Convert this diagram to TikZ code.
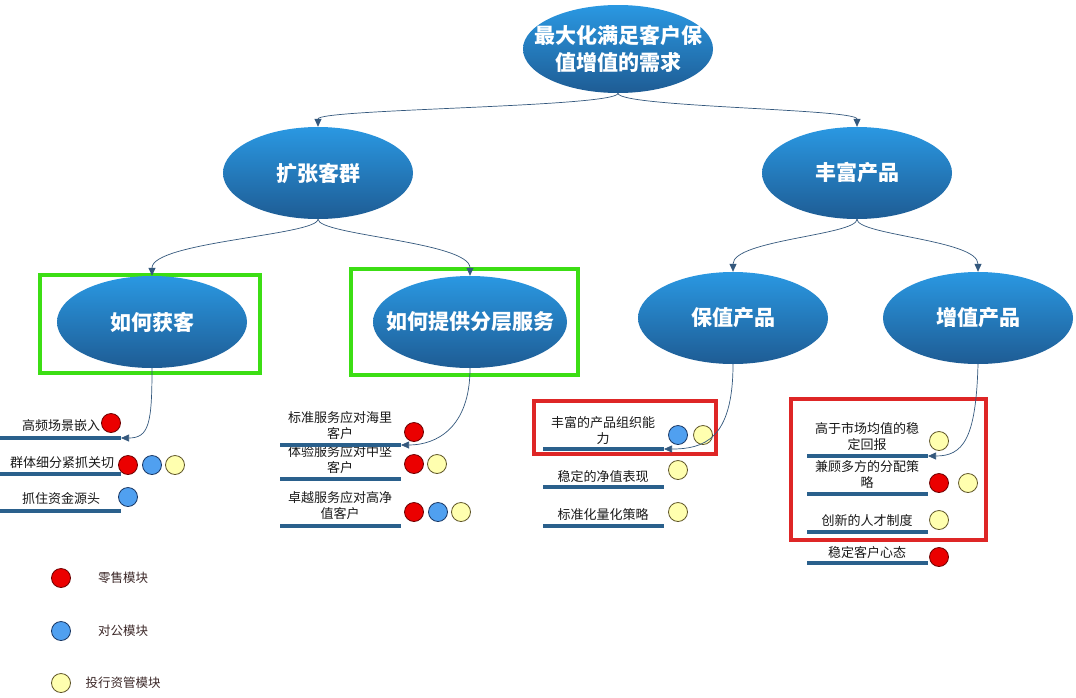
\documentclass[tikz,border=0pt]{standalone}
\usepackage{fontspec}
\newfontfamily\cjk{Noto Sans CJK SC}
\usetikzlibrary{shapes.geometric,arrows.meta}
\definecolor{elltop}{RGB}{42,152,226}
\definecolor{ellbot}{RGB}{30,92,148}
\definecolor{connc}{RGB}{52,88,125}
\definecolor{ulc}{RGB}{42,96,140}
\definecolor{itemc}{RGB}{25,25,25}
\definecolor{legc}{RGB}{60,40,40}
\definecolor{dotred}{RGB}{235,0,0}
\definecolor{dotredb}{RGB}{110,0,0}
\definecolor{dotblue}{RGB}{80,160,240}
\definecolor{dotblueb}{RGB}{25,55,100}
\definecolor{dotyel}{RGB}{255,255,175}
\definecolor{dotyelb}{RGB}{95,85,40}
\definecolor{gboxc}{RGB}{60,222,20}
\definecolor{rboxc}{RGB}{222,38,38}
\tikzset{
  bigell/.style={ellipse, minimum width=190pt, minimum height=92pt, inner sep=0pt,
    top color=elltop, bottom color=ellbot, draw=none, text=white,
    font=\cjk\bfseries\fontsize{21}{27}\selectfont, align=center},
  wideell/.style={bigell, inner xsep=-18pt},
  conn/.style={draw=connc, line width=0.7pt, -{Triangle[length=8pt,width=7pt]}},
  item/.style={font=\cjk\fontsize{13}{15.5}\selectfont, text=itemc, align=center, inner sep=0pt},
  leg/.style={font=\cjk\fontsize{12.5}{14}\selectfont, text=legc, inner sep=0pt},
  uline/.style={draw=ulc, line width=3.5pt},
  dot/.style={circle, minimum size=19pt, inner sep=0pt, line width=0.8pt},
  rdot/.style={dot, fill=dotred, draw=dotredb},
  bdot/.style={dot, fill=dotblue, draw=dotblueb},
  ydot/.style={dot, fill=dotyel, draw=dotyelb},
  gbox/.style={draw=gboxc, line width=4pt, inner sep=0pt},
  rbox/.style={draw=rboxc, line width=4pt, inner sep=0pt},
}
\begin{document}
\begin{tikzpicture}[x=1pt,y=-1pt]
\useasboundingbox[fill=white] (0,0) rectangle (1076,697);

% boxes
\node[gbox, minimum width=220pt, minimum height=98pt] (g1) at (150,324) {};
\node[gbox, minimum width=227pt, minimum height=106pt] (g2) at (464.5,322) {};
\node[rbox, minimum width=182pt, minimum height=53pt] (r1) at (625,427.5) {};
\node[rbox, minimum width=195pt, minimum height=141pt] (r2) at (888.5,469.5) {};

% ellipses
\node[wideell, minimum height=88pt] (top) at (618,49) {最大化满足客户保\\值增值的需求};
\node[bigell] (kz) at (318,173) {扩张客群};
\node[bigell] (ff) at (857,173) {丰富产品};
\node[bigell] (hk) at (152,322) {如何获客};
\node[wideell, minimum width=194pt] (fc) at (470,322) {如何提供分层服务};
\node[bigell] (bz) at (733,318) {保值产品};
\node[bigell] (zz) at (978,318) {增值产品};

% connectors between ellipses
\draw[conn] (top.south) .. controls +(0,14) and +(0,-18) .. (kz.north);
\draw[conn] (top.south) .. controls +(0,14) and +(0,-18) .. (ff.north);
\draw[conn] (kz.south) .. controls +(0,16) and +(0,-34) .. (hk.north);
\draw[conn] (kz.south) .. controls +(0,16) and +(0,-34) .. (fc.north);
\draw[conn] (ff.south) .. controls +(0,16) and +(0,-32) .. (bz.north);
\draw[conn] (ff.south) .. controls +(0,16) and +(0,-32) .. (zz.north);

% column A
\node[item] (a1) at (61,426) {高频场景嵌入};
\node[item] (a2) at (62,463) {群体细分紧抓关切};
\node[item] (a3) at (61,499) {抓住资金源头};
\coordinate (a1s) at (0,438); \coordinate (a1e) at (121,438);
\coordinate (a2s) at (0,474); \coordinate (a2e) at (121,474);
\coordinate (a3s) at (0,511); \coordinate (a3e) at (121,511);
\draw[uline] (a1s) -- (a1e);
\draw[uline] (a2s) -- (a2e);
\draw[uline] (a3s) -- (a3e);
\node[rdot] (a1r) at (111,423) {};
\node[rdot] (a2r) at (128,465) {};
\node[bdot] (a2b) at (152,465) {};
\node[ydot] (a2y) at (175,465) {};
\node[bdot] (a3b) at (128,497) {};
\draw[conn] (hk.south) .. controls +(0,55) and +(28,0) .. (a1e);

% column B
\node[item] (b1) at (340,425.5) {标准服务应对海里\\客户};
\node[item] (b2) at (340,459.5) {体验服务应对中坚\\客户};
\node[item] (b3) at (340,505.5) {卓越服务应对高净\\值客户};
\coordinate (b1s) at (280,445); \coordinate (b1e) at (401,445);
\coordinate (b2s) at (280,479); \coordinate (b2e) at (401,479);
\coordinate (b3s) at (280,526); \coordinate (b3e) at (401,526);
\draw[uline] (b1s) -- (b1e);
\draw[uline] (b2s) -- (b2e);
\draw[uline] (b3s) -- (b3e);
\node[rdot] (b1r) at (414,432) {};
\node[rdot] (b2r) at (414,464) {};
\node[ydot] (b2y) at (437,464) {};
\node[rdot] (b3r) at (414,512) {};
\node[bdot] (b3b) at (438,512) {};
\node[ydot] (b3y) at (461,512) {};
\draw[conn] (fc.south) .. controls +(0,60) and +(35,0) .. (b1e);

% column C
\node[item] (c1) at (603,430.5) {丰富的产品组织能\\力};
\node[item] (c2) at (603,477) {稳定的净值表现};
\node[item] (c3) at (603,515) {标准化量化策略};
\coordinate (c1s) at (543,449); \coordinate (c1e) at (664,449);
\coordinate (c2s) at (543,487); \coordinate (c2e) at (664,487);
\coordinate (c3s) at (543,526); \coordinate (c3e) at (664,526);
\draw[uline] (c1s) -- (c1e);
\draw[uline] (c2s) -- (c2e);
\draw[uline] (c3s) -- (c3e);
\node[bdot] (c1b) at (678,435) {};
\node[ydot] (c1y) at (703,435) {};
\node[ydot] (c2y) at (678,470) {};
\node[ydot] (c3y) at (678,512) {};
\draw[conn] (bz.south) .. controls +(0,75) and +(40,0) .. (c1e);

% column D
\node[item] (d1) at (867,436.5) {高于市场均值的稳\\定回报};
\node[item] (d2) at (867,474.5) {兼顾多方的分配策\\略};
\node[item] (d3) at (867,521) {创新的人才制度};
\node[item] (d4) at (867,553) {稳定客户心态};
\coordinate (d1s) at (807,456); \coordinate (d1e) at (928,456);
\coordinate (d2s) at (807,494); \coordinate (d2e) at (928,494);
\coordinate (d3s) at (807,532); \coordinate (d3e) at (928,532);
\coordinate (d4s) at (807,563); \coordinate (d4e) at (928,563);
\draw[uline] (d1s) -- (d1e);
\draw[uline] (d2s) -- (d2e);
\draw[uline] (d3s) -- (d3e);
\draw[uline] (d4s) -- (d4e);
\node[ydot] (d1y) at (939,441) {};
\node[rdot] (d2r) at (939,483) {};
\node[ydot] (d2y) at (968,483) {};
\node[ydot] (d3y) at (939,520) {};
\node[rdot] (d4r) at (939,557) {};
\draw[conn] (zz.south) .. controls +(-2,75) and +(35,0) .. (d1e);

% legend
\node[rdot] (lr) at (61,578) {};
\node[bdot] (lb) at (61,631) {};
\node[ydot] (ly) at (61,683) {};
\node[leg] (lrt) at (123,578) {零售模块};
\node[leg] (lbt) at (123,631) {对公模块};
\node[leg] (lyt) at (123,683) {投行资管模块};
\end{tikzpicture}
\end{document}
